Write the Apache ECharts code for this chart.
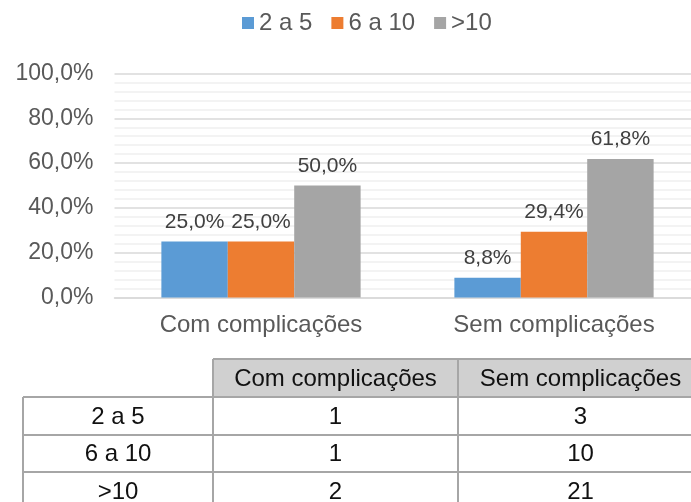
<!DOCTYPE html>
<html>
<head>
<meta charset="utf-8">
<script src="https://cdn.jsdelivr.net/npm/echarts@6/dist/echarts.min.js"></script>
<style>
  html, body { margin: 0; padding: 0; background: #fff; overflow: hidden; }
  /* a área do gráfico passa um pouco da janela, como no recorte original */
  #chart { width: 701px; height: 502px; }
</style>
</head>
<body>
<div id="chart"></div>
<script>
// categorias e séries
const categories = ['Com complicações', 'Sem complicações'];
const seriesNames = ['2 a 5', '6 a 10', '>10'];
const pct2a5 = [25.0, 8.8];
const pct6a10 = [25.0, 29.4];
const pctOver10 = [50.0, 61.8];
const colors = ['#5b9bd5', '#ed7d31', '#a5a5a5'];

// tabela de dados
const tableHeader = ['', 'Com complicações', 'Sem complicações'];
const tableRows = ['2 a 5', '6 a 10', '>10'];
const countsCom = [1, 1, 2];
const countsSem = [3, 10, 21];

const fmtPct = v => v.toFixed(1).replace('.', ',') + '%';
const font = "'Liberation Sans', Arial, sans-serif";

// grade da tabela
const colX = [23, 213, 458, 703];
const rowY = [359, 397, 435, 472, 510];
const border = { stroke: '#a6a6a6', lineWidth: 2 };

function buildTable() {
  const els = [];
  els.push({
    type: 'rect',
    shape: { x: colX[1], y: rowY[0], width: colX[3] - colX[1], height: rowY[1] - rowY[0] },
    style: { fill: '#d0d0d0' }
  });
  // linhas horizontais
  rowY.forEach((y, i) => {
    const x1 = i === 0 ? colX[1] : colX[0];
    els.push({ type: 'line', shape: { x1: x1, y1: y, x2: colX[3], y2: y }, style: border });
  });
  // linhas verticais
  colX.forEach((x, i) => {
    const y1 = i === 0 ? rowY[1] : rowY[0];
    els.push({ type: 'line', shape: { x1: x, y1: y1, x2: x, y2: rowY[4] }, style: border });
  });
  const cells = [tableHeader];
  tableRows.forEach((r, i) => cells.push([r, String(countsCom[i]), String(countsSem[i])]));
  cells.forEach((row, ri) => {
    row.forEach((txt, ci) => {
      if (!txt) return;
      els.push({
        type: 'text',
        x: (colX[ci] + colX[ci + 1]) / 2,
        y: (rowY[ri] + rowY[ri + 1]) / 2 + 1,
        style: {
          text: txt, fontSize: 24, fontFamily: font, fill: '#111',
          align: 'center', verticalAlign: 'middle'
        }
      });
    });
  });
  return els;
}

const chart = echarts.init(document.getElementById('chart'));
const seriesData = [pct2a5, pct6a10, pctOver10];

chart.setOption({
  animation: false,
  textStyle: { fontFamily: font },
  color: colors,
  legend: {
    data: seriesNames,
    left: 237,
    top: 6,
    itemWidth: 12,
    itemHeight: 12,
    itemGap: 19,
    icon: 'rect',
    textStyle: { fontSize: 24, color: '#595959', padding: [0, 0, 0, 0] }
  },
  grid: { left: 114.5, right: 0.5, top: 73.5, bottom: 204.5, containLabel: false },
  xAxis: {
    type: 'category',
    data: categories,
    axisLine: { lineStyle: { color: '#d9d9d9', width: 1.5 } },
    axisTick: { show: false },
    axisLabel: { fontSize: 24, color: '#595959', margin: 16 }
  },
  yAxis: {
    type: 'value',
    min: 0,
    max: 100,
    interval: 20,
    axisLine: { show: false },
    axisTick: { show: false },
    axisLabel: { fontSize: 23, color: '#595959', margin: 21, formatter: fmtPct },
    splitLine: { lineStyle: { color: '#d9d9d9', width: 1.5 } },
    minorTick: { show: false, splitNumber: 5 },
    minorSplitLine: { show: true, lineStyle: { color: '#f0f0f0', width: 1.5 } }
  },
  series: seriesNames.map((name, i) => ({
    name: name,
    type: 'bar',
    data: seriesData[i],
    barGap: '0%',
    barCategoryGap: '32%',
    label: {
      show: true,
      position: 'top',
      distance: 9,
      fontSize: 21,
      color: '#404040',
      formatter: p => fmtPct(p.value)
    }
  })),
  graphic: buildTable()
});
</script>
</body>
</html>
